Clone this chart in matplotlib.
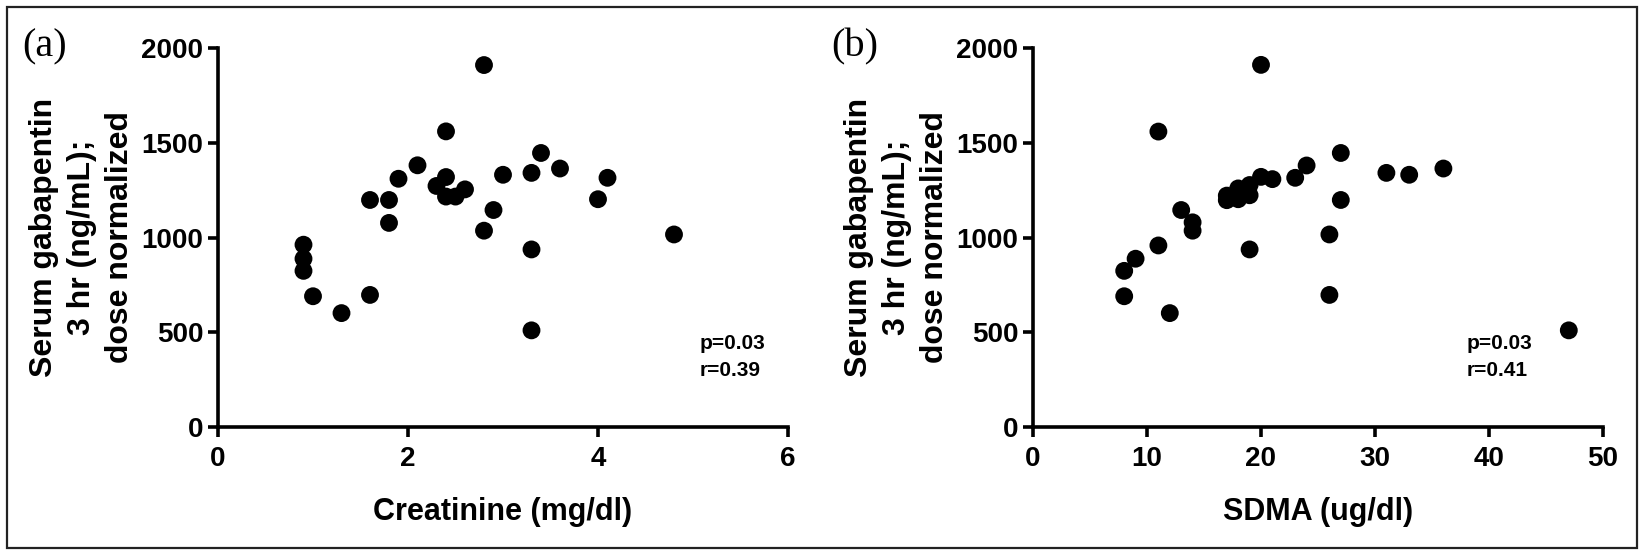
#!/usr/bin/env python
# Serum gabapentin vs creatinine (a) and vs SDMA (b)

import matplotlib
matplotlib.use("Agg")
import matplotlib.pyplot as plt
from matplotlib.patches import Rectangle

# panel (a): creatinine (mg/dl) vs dose normalized gabapentin
creat = [2.8, 2.4, 3.4, 2.1, 3.6, 1.9, 2.4, 3.3, 3.0, 4.1,
         2.3, 2.6, 2.4, 2.5, 1.6, 1.8, 4.0, 1.8, 2.9, 2.8,
         4.8, 3.3, 0.9, 0.9, 0.9, 1.0, 1.6, 1.3, 3.3]
gaba_a = [1910, 1560, 1446, 1381, 1364, 1310, 1319, 1341, 1331, 1315,
          1272, 1254, 1216, 1216, 1198, 1198, 1202, 1077, 1145, 1036,
          1016, 937, 962, 888, 824, 690, 697, 601, 510]

# panel (b): SDMA (ug/dl) vs dose normalized gabapentin
sdma = [20, 11, 27, 24, 36, 31, 33, 20, 21, 23,
        19, 18, 17, 17, 18, 19, 27, 13, 14, 14,
        11, 9, 8, 8, 12, 19, 26, 26, 47]
gaba_b = [1911, 1559, 1446, 1380, 1364, 1341, 1331, 1320, 1308, 1315,
          1277, 1259, 1221, 1197, 1202, 1223, 1198, 1145, 1080, 1036,
          958, 888, 824, 690, 601, 937, 1016, 697, 510]

xlabels = ["Creatinine (mg/dl)", "SDMA (ug/dl)"]
xlims = [(0, 6), (0, 50)]
xticks = [[0, 2, 4, 6], [0, 10, 20, 30, 40, 50]]
yticks = [0, 500, 1000, 1500, 2000]
stats = [("p=0.03", "r=0.39"), ("p=0.03", "r=0.41")]
panel_tags = ["(a)", "(b)"]
ylabel = "Serum gabapentin\n3 hr (ng/mL);\ndose normalized"

W, H = 1643, 555
fig = plt.figure(figsize=(W / 100, H / 100), dpi=100)
plt.rcParams['font.family'] = ['Liberation Sans', 'DejaVu Sans']

# frame around the whole figure
fig.patches.append(Rectangle((7 / W, 7 / H), 1630 / W, 541 / H,
                             transform=fig.transFigure, fill=False,
                             edgecolor='#222222', linewidth=1.6))

ax_left = [218, 1033]
tag_x = [22, 831]
stat_x = [0.845, 0.76]
data = [(creat, gaba_a), (sdma, gaba_b)]

for i in range(2):
    ax = fig.add_axes([ax_left[i] / W, (H - 427) / H, 570 / W, 379 / H])
    xs, ys = data[i]
    ax.scatter(xs, ys, s=165, color='black', edgecolors='none', zorder=3,
               clip_on=False)
    ax.set_xlim(*xlims[i])
    ax.set_ylim(0, 2000)
    ax.set_xticks(xticks[i])
    ax.set_yticks(yticks)
    for side in ['top', 'right']:
        ax.spines[side].set_visible(False)
    for side in ['left', 'bottom']:
        ax.spines[side].set_linewidth(2.6)
    ax.tick_params(width=2.6, length=7.5, labelsize=20, pad=3)
    ax.tick_params(axis='x', pad=6)
    for lab in ax.get_xticklabels() + ax.get_yticklabels():
        lab.set_fontweight('bold')

    ax.set_xlabel(xlabels[i], fontsize=22, fontweight='bold')
    ax.xaxis.set_label_coords(0.5, (427 - 512) / 379)
    ax.xaxis.label.set_va('center')

    ax.text(-0.2386, 0.5, ylabel, transform=ax.transAxes, rotation=90,
            ha='center', va='center', multialignment='center',
            fontsize=23, fontweight='bold', linespacing=1.35)

    ax.text(stat_x[i], 0.22, stats[i][0], transform=ax.transAxes,
            fontsize=15, fontweight='bold', va='center', ha='left')
    ax.text(stat_x[i], 0.15, stats[i][1], transform=ax.transAxes,
            fontsize=15, fontweight='bold', va='center', ha='left')

    fig.text(tag_x[i] / W, (H - 47) / H, panel_tags[i], fontsize=29,
             family=['Liberation Serif', 'DejaVu Serif'],
             ha='left', va='center')

fig.savefig("out.png", dpi=100)
